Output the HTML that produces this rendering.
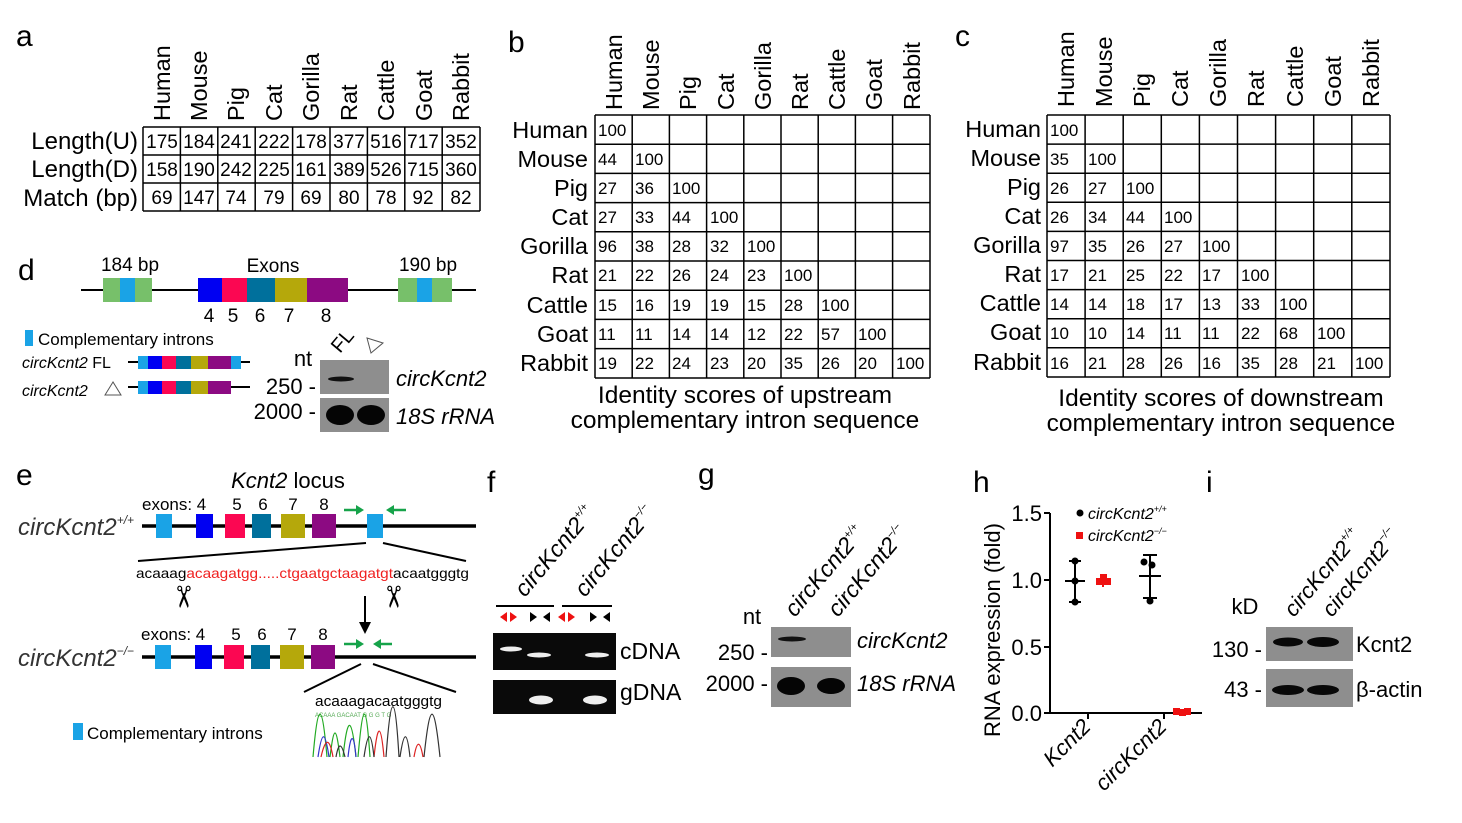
<!DOCTYPE html>
<html><head><meta charset="utf-8"><style>
html,body{margin:0;padding:0;background:#fff;}
svg{display:block;font-family:"Liberation Sans",Arial,sans-serif;}
.it{font-style:italic;}
</style></head><body>
<svg width="1462" height="823" viewBox="0 0 1462 823" xmlns="http://www.w3.org/2000/svg">
<!-- Panel labels -->
<g font-size="30" fill="#000">
<text x="16" y="46">a</text>
<text x="508" y="52">b</text>
<text x="955" y="46">c</text>
<text x="18" y="280">d</text>
<text x="16" y="485">e</text>
<text x="487" y="492">f</text>
<text x="698" y="484">g</text>
<text x="973" y="492">h</text>
<text x="1206" y="492">i</text>
</g>

<!-- Panel a -->
<g font-size="23.5">
<g transform="translate(170,121) rotate(-90)"><text>Human</text></g>
<g transform="translate(207,121) rotate(-90)"><text>Mouse</text></g>
<g transform="translate(244,121) rotate(-90)"><text>Pig</text></g>
<g transform="translate(282,121) rotate(-90)"><text>Cat</text></g>
<g transform="translate(319,121) rotate(-90)"><text>Gorilla</text></g>
<g transform="translate(357,121) rotate(-90)"><text>Rat</text></g>
<g transform="translate(394,121) rotate(-90)"><text>Cattle</text></g>
<g transform="translate(432,121) rotate(-90)"><text>Goat</text></g>
<g transform="translate(469,121) rotate(-90)"><text>Rabbit</text></g>
</g>
<g font-size="24">
<text x="138" y="149" text-anchor="end">Length(U)</text>
<text x="138" y="177" text-anchor="end">Length(D)</text>
<text x="138" y="206" text-anchor="end">Match (bp)</text>
</g>
<path d="M143 127H480M143 155H480M143 183H480M143 211H480M143 127V211M180.4 127V211M217.8 127V211M255.2 127V211M292.6 127V211M330 127V211M367.4 127V211M404.8 127V211M442.2 127V211M480 127V211" stroke="#000" stroke-width="1.5" fill="none"/>
<g font-size="19" text-anchor="middle">
<text y="148"><tspan x="162">175</tspan><tspan x="199">184</tspan><tspan x="236">241</tspan><tspan x="274">222</tspan><tspan x="311">178</tspan><tspan x="349">377</tspan><tspan x="386">516</tspan><tspan x="423">717</tspan><tspan x="461">352</tspan></text>
<text y="176"><tspan x="162">158</tspan><tspan x="199">190</tspan><tspan x="236">242</tspan><tspan x="274">225</tspan><tspan x="311">161</tspan><tspan x="349">389</tspan><tspan x="386">526</tspan><tspan x="423">715</tspan><tspan x="461">360</tspan></text>
<text y="204"><tspan x="162">69</tspan><tspan x="199">147</tspan><tspan x="236">74</tspan><tspan x="274">79</tspan><tspan x="311">69</tspan><tspan x="349">80</tspan><tspan x="386">78</tspan><tspan x="423">92</tspan><tspan x="461">82</tspan></text>
</g>

<!-- Panel b -->
<g font-size="23.5">
<g transform="translate(622,110) rotate(-90)"><text>Human</text></g>
<g transform="translate(659,110) rotate(-90)"><text>Mouse</text></g>
<g transform="translate(696,110) rotate(-90)"><text>Pig</text></g>
<g transform="translate(734,110) rotate(-90)"><text>Cat</text></g>
<g transform="translate(771,110) rotate(-90)"><text>Gorilla</text></g>
<g transform="translate(808,110) rotate(-90)"><text>Rat</text></g>
<g transform="translate(845,110) rotate(-90)"><text>Cattle</text></g>
<g transform="translate(882,110) rotate(-90)"><text>Goat</text></g>
<g transform="translate(920,110) rotate(-90)"><text>Rabbit</text></g>
<g text-anchor="end">
<text x="588" y="138">Human</text><text x="588" y="167">Mouse</text><text x="588" y="196">Pig</text>
<text x="588" y="225">Cat</text><text x="588" y="254">Gorilla</text><text x="588" y="283">Rat</text>
<text x="588" y="313">Cattle</text><text x="588" y="342">Goat</text><text x="588" y="371">Rabbit</text>
</g>
</g>
<g font-size="24.5" text-anchor="middle">
<text x="745" y="403">Identity scores of upstream</text>
<text x="745" y="428">complementary intron sequence</text>
</g>
<path d="M595 115H930M595 144.2H930M595 173.4H930M595 202.6H930M595 231.8H930M595 261H930M595 290.2H930M595 319.4H930M595 348.6H930M595 378H930M595 115V378M632.2 115V378M669.4 115V378M706.6 115V378M743.8 115V378M781 115V378M818.2 115V378M855.4 115V378M892.6 115V378M930 115V378" stroke="#000" stroke-width="1.5" fill="none"/>
<g font-size="17">
<text y="136"><tspan x="598">100</tspan></text>
<text y="165"><tspan x="598">44</tspan><tspan x="635">100</tspan></text>
<text y="194"><tspan x="598">27</tspan><tspan x="635">36</tspan><tspan x="672">100</tspan></text>
<text y="223"><tspan x="598">27</tspan><tspan x="635">33</tspan><tspan x="672">44</tspan><tspan x="710">100</tspan></text>
<text y="252"><tspan x="598">96</tspan><tspan x="635">38</tspan><tspan x="672">28</tspan><tspan x="710">32</tspan><tspan x="747">100</tspan></text>
<text y="281"><tspan x="598">21</tspan><tspan x="635">22</tspan><tspan x="672">26</tspan><tspan x="710">24</tspan><tspan x="747">23</tspan><tspan x="784">100</tspan></text>
<text y="311"><tspan x="598">15</tspan><tspan x="635">16</tspan><tspan x="672">19</tspan><tspan x="710">19</tspan><tspan x="747">15</tspan><tspan x="784">28</tspan><tspan x="821">100</tspan></text>
<text y="340"><tspan x="598">11</tspan><tspan x="635">11</tspan><tspan x="672">14</tspan><tspan x="710">14</tspan><tspan x="747">12</tspan><tspan x="784">22</tspan><tspan x="821">57</tspan><tspan x="858">100</tspan></text>
<text y="369"><tspan x="598">19</tspan><tspan x="635">22</tspan><tspan x="672">24</tspan><tspan x="710">23</tspan><tspan x="747">20</tspan><tspan x="784">35</tspan><tspan x="821">26</tspan><tspan x="858">20</tspan><tspan x="896">100</tspan></text>
</g>

<!-- Panel c -->
<g font-size="23.5">
<g transform="translate(1074,107) rotate(-90)"><text>Human</text></g>
<g transform="translate(1112,107) rotate(-90)"><text>Mouse</text></g>
<g transform="translate(1150,107) rotate(-90)"><text>Pig</text></g>
<g transform="translate(1188,107) rotate(-90)"><text>Cat</text></g>
<g transform="translate(1226,107) rotate(-90)"><text>Gorilla</text></g>
<g transform="translate(1264,107) rotate(-90)"><text>Rat</text></g>
<g transform="translate(1303,107) rotate(-90)"><text>Cattle</text></g>
<g transform="translate(1341,107) rotate(-90)"><text>Goat</text></g>
<g transform="translate(1379,107) rotate(-90)"><text>Rabbit</text></g>
<g text-anchor="end">
<text x="1041" y="137">Human</text><text x="1041" y="166">Mouse</text><text x="1041" y="195">Pig</text>
<text x="1041" y="224">Cat</text><text x="1041" y="253">Gorilla</text><text x="1041" y="282">Rat</text>
<text x="1041" y="311">Cattle</text><text x="1041" y="340">Goat</text><text x="1041" y="370">Rabbit</text>
</g>
</g>
<g font-size="24.5" text-anchor="middle">
<text x="1221" y="406">Identity scores of downstream</text>
<text x="1221" y="431">complementary intron sequence</text>
</g>
<path d="M1047 115H1390M1047 144.1H1390M1047 173.2H1390M1047 202.3H1390M1047 231.4H1390M1047 260.5H1390M1047 289.6H1390M1047 318.7H1390M1047 347.8H1390M1047 377H1390M1047 115V377M1085.1 115V377M1123.2 115V377M1161.3 115V377M1199.4 115V377M1237.5 115V377M1275.6 115V377M1313.7 115V377M1351.8 115V377M1390 115V377" stroke="#000" stroke-width="1.5" fill="none"/>
<g font-size="17">
<text y="136"><tspan x="1050">100</tspan></text>
<text y="165"><tspan x="1050">35</tspan><tspan x="1088">100</tspan></text>
<text y="194"><tspan x="1050">26</tspan><tspan x="1088">27</tspan><tspan x="1126">100</tspan></text>
<text y="223"><tspan x="1050">26</tspan><tspan x="1088">34</tspan><tspan x="1126">44</tspan><tspan x="1164">100</tspan></text>
<text y="252"><tspan x="1050">97</tspan><tspan x="1088">35</tspan><tspan x="1126">26</tspan><tspan x="1164">27</tspan><tspan x="1202">100</tspan></text>
<text y="281"><tspan x="1050">17</tspan><tspan x="1088">21</tspan><tspan x="1126">25</tspan><tspan x="1164">22</tspan><tspan x="1202">17</tspan><tspan x="1241">100</tspan></text>
<text y="310"><tspan x="1050">14</tspan><tspan x="1088">14</tspan><tspan x="1126">18</tspan><tspan x="1164">17</tspan><tspan x="1202">13</tspan><tspan x="1241">33</tspan><tspan x="1279">100</tspan></text>
<text y="339"><tspan x="1050">10</tspan><tspan x="1088">10</tspan><tspan x="1126">14</tspan><tspan x="1164">11</tspan><tspan x="1202">11</tspan><tspan x="1241">22</tspan><tspan x="1279">68</tspan><tspan x="1317">100</tspan></text>
<text y="369"><tspan x="1050">16</tspan><tspan x="1088">21</tspan><tspan x="1126">28</tspan><tspan x="1164">26</tspan><tspan x="1202">16</tspan><tspan x="1241">35</tspan><tspan x="1279">28</tspan><tspan x="1317">21</tspan><tspan x="1355">100</tspan></text>
</g>

<!-- Panel d -->
<line x1="81" y1="290" x2="476" y2="290" stroke="#000" stroke-width="2"/>
<rect x="103" y="278" width="49" height="24" fill="#77c06a"/><rect x="120" y="278" width="15" height="24" fill="#1aa3e6"/>
<rect x="398" y="278" width="54" height="24" fill="#77c06a"/><rect x="417" y="278" width="15" height="24" fill="#1aa3e6"/>
<rect x="198" y="278" width="24" height="24" fill="#0000f2"/>
<rect x="222" y="278" width="25" height="24" fill="#fb0752"/>
<rect x="247" y="278" width="28" height="24" fill="#00709c"/>
<rect x="275" y="278" width="32" height="24" fill="#b5a80b"/>
<rect x="307" y="278" width="41" height="24" fill="#8c0a82"/>
<g font-size="19">
<text x="130" y="271" text-anchor="middle">184 bp</text>
<text x="273" y="272" text-anchor="middle">Exons</text>
<text x="428" y="271" text-anchor="middle">190 bp</text>
<text y="322" text-anchor="middle"><tspan x="209">4</tspan><tspan x="233">5</tspan><tspan x="260">6</tspan><tspan x="289">7</tspan><tspan x="326">8</tspan></text>
</g>
<rect x="25" y="330" width="8" height="16" fill="#1aa3e6"/>
<text x="38" y="345" font-size="17">Complementary introns</text>
<text x="22" y="368" font-size="16"><tspan class="it">circKcnt2</tspan> FL</text>
<text x="22" y="396" font-size="16" class="it">circKcnt2</text>
<polygon points="113,382 105,395 121,395" fill="none" stroke="#555" stroke-width="1"/>
<line x1="128" y1="362" x2="250" y2="362" stroke="#000" stroke-width="2"/>
<line x1="128" y1="387" x2="250" y2="387" stroke="#000" stroke-width="2"/>
<g>
<rect x="138" y="356" width="10" height="13" fill="#1aa3e6"/><rect x="148" y="356" width="14" height="13" fill="#0000f2"/><rect x="162" y="356" width="14" height="13" fill="#fb0752"/><rect x="176" y="356" width="15" height="13" fill="#00709c"/><rect x="191" y="356" width="17" height="13" fill="#b5a80b"/><rect x="208" y="356" width="23" height="13" fill="#8c0a82"/><rect x="231" y="356" width="10" height="13" fill="#1aa3e6"/>
<rect x="138" y="381" width="10" height="13" fill="#1aa3e6"/><rect x="148" y="381" width="14" height="13" fill="#0000f2"/><rect x="162" y="381" width="14" height="13" fill="#fb0752"/><rect x="176" y="381" width="15" height="13" fill="#00709c"/><rect x="191" y="381" width="17" height="13" fill="#b5a80b"/><rect x="208" y="381" width="23" height="13" fill="#8c0a82"/>
</g>
<g font-size="22">
<text x="303" y="366" text-anchor="middle">nt</text>
<text x="316" y="394" text-anchor="end">250 -</text>
<text x="316" y="419" text-anchor="end">2000 -</text>
<text x="396" y="386" class="it">circKcnt2</text>
<text x="396" y="424" class="it">18S rRNA</text>
<g transform="translate(340,354) rotate(-50)"><text font-size="20">FL</text></g>
</g>
<polygon points="367,338 383,343 371,353" fill="none" stroke="#555" stroke-width="1"/>
<rect x="320" y="360" width="69" height="34" fill="#8e8e8e"/>
<ellipse cx="341" cy="379" rx="13" ry="2.5" fill="#111"/>
<rect x="320" y="398" width="69" height="34" fill="#8e8e8e"/>
<ellipse cx="340" cy="415" rx="14" ry="10" fill="#050505"/>
<ellipse cx="371" cy="415" rx="14" ry="10" fill="#050505"/>

<!-- Panel e -->
<text x="288" y="488" font-size="22" text-anchor="middle"><tspan class="it">Kcnt2</tspan> locus</text>
<text x="18" y="535" font-size="24" class="it" fill="#333">circKcnt2<tspan font-size="12" dy="-11">+/+</tspan></text>
<text x="18" y="666" font-size="24" class="it" fill="#333">circKcnt2<tspan font-size="12" dy="-11">−/−</tspan></text>
<line x1="142" y1="526" x2="476" y2="526" stroke="#000" stroke-width="3.5"/>
<line x1="142" y1="657" x2="476" y2="657" stroke="#000" stroke-width="3.5"/>
<g font-size="17">
<text x="142" y="510">exons: 4</text>
<text y="510" text-anchor="middle"><tspan x="237">5</tspan><tspan x="263">6</tspan><tspan x="293">7</tspan><tspan x="324">8</tspan></text>
<text x="141" y="640">exons: 4</text>
<text y="640" text-anchor="middle"><tspan x="236">5</tspan><tspan x="262">6</tspan><tspan x="292">7</tspan><tspan x="323">8</tspan></text>
</g>
<g>
<rect x="156" y="514" width="16" height="24" fill="#1aa3e6"/><rect x="196" y="514" width="17" height="24" fill="#0000f2"/><rect x="225" y="514" width="20" height="24" fill="#fb0752"/><rect x="252" y="514" width="19" height="24" fill="#00709c"/><rect x="281" y="514" width="24" height="24" fill="#b5a80b"/><rect x="312" y="514" width="24" height="24" fill="#8c0a82"/><rect x="367" y="514" width="16" height="24" fill="#1aa3e6"/>
<rect x="155" y="645" width="16" height="24" fill="#1aa3e6"/><rect x="195" y="645" width="17" height="24" fill="#0000f2"/><rect x="224" y="645" width="20" height="24" fill="#fb0752"/><rect x="251" y="645" width="19" height="24" fill="#00709c"/><rect x="280" y="645" width="24" height="24" fill="#b5a80b"/><rect x="311" y="645" width="24" height="24" fill="#8c0a82"/>
</g>
<g stroke="#16a34a" stroke-width="2.5" fill="#16a34a">
<line x1="344" y1="510" x2="358" y2="510"/><polygon points="364,510 356,505 356,515" stroke="none"/>
<line x1="392" y1="510" x2="406" y2="510"/><polygon points="386,510 394,505 394,515" stroke="none"/>
<line x1="344" y1="644" x2="358" y2="644"/><polygon points="364,644 356,639 356,649" stroke="none"/>
<line x1="379" y1="644" x2="392" y2="644"/><polygon points="373,644 381,639 381,649" stroke="none"/>
</g>
<g stroke="#000" stroke-width="2">
<line x1="366" y1="543" x2="138" y2="561"/><line x1="383" y1="543" x2="466" y2="561"/>
<line x1="361" y1="664" x2="304" y2="692"/><line x1="373" y1="664" x2="456" y2="692"/>
<line x1="365" y1="596" x2="365" y2="624"/>
</g>
<polygon points="359,622 371,622 365,634" fill="#000"/>
<text x="136" y="578" font-size="14" textLength="333" lengthAdjust="spacingAndGlyphs">acaaag<tspan fill="#f02020">acaagatgg.....ctgaatgctaagatgt</tspan>acaatgggtg</text>
<text x="183" y="607" font-size="30" text-anchor="middle" transform="rotate(90 183 597)">✂</text>
<text x="393" y="607" font-size="30" text-anchor="middle" transform="rotate(90 393 597)">✂</text>
<text x="315" y="706" font-size="15" textLength="127" lengthAdjust="spacingAndGlyphs">acaaagacaatgggtg</text>
<text x="315" y="717" font-size="6" fill="#5a5">ACAAA GACAAT G G G T G</text>
<path d="M313 757 C318 700 322 700 327 757 M330 757 C334 725 336 725 340 757 M343 757 C348 710 352 720 356 757 M358 757 C363 700 366 700 370 757" stroke="#2a2" stroke-width="1.2" fill="none"/>
<path d="M318 757 C322 730 325 730 329 757 M348 757 C351 730 354 735 356 757" stroke="#33c" stroke-width="1.2" fill="none"/>
<path d="M321 757 C326 735 330 740 333 757 M374 757 C378 720 381 725 384 757 M414 757 C417 740 420 740 423 757" stroke="#d22" stroke-width="1.2" fill="none"/>
<path d="M336 757 C339 740 342 745 345 757 M364 757 C368 730 371 730 374 757 M386 757 C391 690 395 690 399 757 M400 757 C404 730 407 730 410 757 M424 757 C430 700 434 700 440 757" stroke="#333" stroke-width="1.2" fill="none"/>
<rect x="73" y="723" width="10" height="17" fill="#1aa3e6"/>
<text x="87" y="739" font-size="17">Complementary introns</text>

<!-- Panel f -->
<g font-size="23" class="it">
<g transform="translate(525,598) rotate(-50)"><text>circKcnt2<tspan font-size="11" dy="-10">+/+</tspan></text></g>
<g transform="translate(585,598) rotate(-50)"><text>circKcnt2<tspan font-size="11" dy="-10">−/−</tspan></text></g>
</g>
<line x1="496" y1="606" x2="554" y2="606" stroke="#000" stroke-width="2"/>
<line x1="562" y1="606" x2="612" y2="606" stroke="#000" stroke-width="2"/>
<g>
<polygon points="500,617 507,612 507,622" fill="#e11"/><polygon points="517,617 510,612 510,622" fill="#e11"/>
<polygon points="530,612 537,617 530,622" fill="#000"/><polygon points="550,612 543,617 550,622" fill="#000"/>
<polygon points="558,617 565,612 565,622" fill="#e11"/><polygon points="575,617 568,612 568,622" fill="#e11"/>
<polygon points="590,612 597,617 590,622" fill="#000"/><polygon points="610,612 603,617 610,622" fill="#000"/>
</g>
<rect x="493" y="633" width="123" height="37" fill="#0a0a0a"/>
<rect x="493" y="680" width="123" height="34" fill="#0a0a0a"/>
<ellipse cx="511" cy="649" rx="11" ry="2.5" fill="#eee"/>
<ellipse cx="539" cy="655" rx="12" ry="2.5" fill="#eee"/>
<ellipse cx="597" cy="655" rx="12" ry="2.5" fill="#eee"/>
<ellipse cx="541" cy="700" rx="12" ry="4.5" fill="#eee"/>
<ellipse cx="595" cy="700" rx="12" ry="4.5" fill="#eee"/>
<text x="620" y="659" font-size="23">cDNA</text>
<text x="620" y="700" font-size="23">gDNA</text>

<!-- Panel g -->
<g font-size="23" class="it">
<g transform="translate(795,618) rotate(-50)"><text>circKcnt2<tspan font-size="11" dy="-10">+/+</tspan></text></g>
<g transform="translate(838,618) rotate(-50)"><text>circKcnt2<tspan font-size="11" dy="-10">−/−</tspan></text></g>
</g>
<g font-size="22">
<text x="752" y="624" text-anchor="middle">nt</text>
<text x="768" y="660" text-anchor="end">250 -</text>
<text x="768" y="691" text-anchor="end">2000 -</text>
<text x="857" y="648" class="it">circKcnt2</text>
<text x="857" y="691" class="it">18S rRNA</text>
</g>
<rect x="771" y="627" width="80" height="30" fill="#8e8e8e"/>
<ellipse cx="792" cy="639" rx="14" ry="2.5" fill="#111"/>
<rect x="771" y="667" width="80" height="40" fill="#8e8e8e"/>
<ellipse cx="791" cy="686" rx="14" ry="9" fill="#050505"/>
<ellipse cx="831" cy="686" rx="14" ry="8" fill="#050505"/>

<!-- Panel h -->
<g stroke="#000" stroke-width="2" fill="none">
<path d="M1050 513V713H1202"/>
<path d="M1044 513H1050M1044 580H1050M1044 647H1050M1044 713H1050M1088 713V719M1164 713V719"/>
</g>
<g font-size="22" text-anchor="end">
<text x="1042" y="521">1.5</text><text x="1042" y="588">1.0</text><text x="1042" y="655">0.5</text><text x="1042" y="721">0.0</text>
</g>
<g transform="translate(1000,630) rotate(-90)"><text font-size="22" text-anchor="middle">RNA expression (fold)</text></g>
<g font-size="22" class="it" text-anchor="end">
<g transform="translate(1092,728) rotate(-45)"><text>Kcnt2</text></g>
<g transform="translate(1168,728) rotate(-45)"><text>circKcnt2</text></g>
</g>
<g stroke="#000" stroke-width="2">
<line x1="1075" y1="561" x2="1075" y2="602"/><line x1="1069" y1="561" x2="1081" y2="561"/><line x1="1069" y1="602" x2="1081" y2="602"/><line x1="1065" y1="581" x2="1085" y2="581"/>
<line x1="1150" y1="555" x2="1150" y2="598"/><line x1="1143" y1="555" x2="1157" y2="555"/><line x1="1143" y1="598" x2="1157" y2="598"/><line x1="1139" y1="576" x2="1161" y2="576"/>
</g>
<g fill="#000"><circle cx="1075" cy="561" r="3.5"/><circle cx="1075" cy="581" r="3.5"/><circle cx="1075" cy="602" r="3.5"/>
<circle cx="1144" cy="562" r="3.5"/><circle cx="1152" cy="565" r="3.5"/><circle cx="1150" cy="601" r="3.5"/></g>
<g stroke="#e11" stroke-width="2"><line x1="1096" y1="582" x2="1110" y2="582"/><line x1="1103" y1="576" x2="1103" y2="587"/></g>
<g fill="#e11"><rect x="1096" y="578" width="7" height="7"/><rect x="1100" y="574" width="7" height="7"/><rect x="1104" y="578" width="7" height="7"/>
<rect x="1173" y="708" width="7" height="7"/><rect x="1179" y="709" width="7" height="7"/><rect x="1184" y="708" width="7" height="7"/></g>
<circle cx="1080" cy="513" r="3.5" fill="#000"/>
<rect x="1076" y="532" width="7" height="7" fill="#e11"/>
<text x="1088" y="519" font-size="16" class="it">circKcnt2<tspan font-size="9" dy="-7">+/+</tspan></text>
<text x="1088" y="541" font-size="16" class="it">circKcnt2<tspan font-size="9" dy="-7">−/−</tspan></text>

<!-- Panel i -->
<g font-size="22" class="it">
<g transform="translate(1294,618) rotate(-50)"><text>circKcnt2<tspan font-size="11" dy="-10">+/+</tspan></text></g>
<g transform="translate(1332,618) rotate(-50)"><text>circKcnt2<tspan font-size="11" dy="-10">−/−</tspan></text></g>
</g>
<g font-size="22">
<text x="1245" y="614" text-anchor="middle">kD</text>
<text x="1262" y="657" text-anchor="end">130 -</text>
<text x="1262" y="697" text-anchor="end">43 -</text>
<text x="1356" y="652">Kcnt2</text>
<text x="1356" y="697">β-actin</text>
</g>
<rect x="1266" y="627" width="87" height="34" fill="#8e8e8e"/>
<ellipse cx="1288" cy="642" rx="15" ry="4.5" fill="#080808"/>
<ellipse cx="1323" cy="642" rx="16" ry="5" fill="#080808"/>
<rect x="1266" y="669" width="87" height="38" fill="#8e8e8e"/>
<ellipse cx="1288" cy="690" rx="16" ry="5" fill="#080808"/>
<ellipse cx="1323" cy="690" rx="16" ry="5" fill="#080808"/>
</svg>
</body></html>
